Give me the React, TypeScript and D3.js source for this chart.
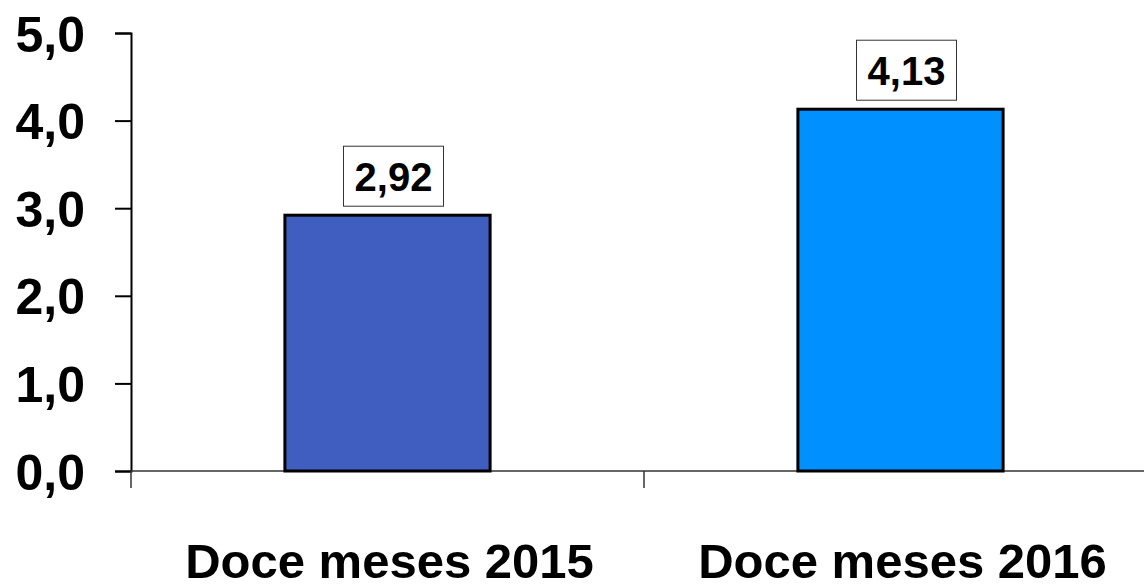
import React, { useEffect, useRef } from 'react';
import * as d3 from 'd3';

const categories = ['Doce meses 2015', 'Doce meses 2016'];
const values = [2.92, 4.13];
const valueLabels = ['2,92', '4,13'];
const barColors = ['#405DC0', '#0090FF'];
const yTicks = [0, 1, 2, 3, 4, 5];

export default function App() {
  const ref = useRef<SVGSVGElement>(null);

  useEffect(() => {
    const svg = d3.select(ref.current);
    svg.selectAll('*').remove();

    const left = 131;
    const x = d3.scaleBand().domain(categories).range([left, 1157]).paddingInner(0.6).paddingOuter(0.3);
    const y = d3.scaleLinear().domain([0, 5]).range([471, 33]);
    const step = x.step();
    const font = 'Arial, "Liberation Sans", sans-serif';

    // y axis
    const yAxis = svg.append('g').attr('transform', `translate(${left},0)`)
      .call(d3.axisLeft(y).tickValues(yTicks).tickSize(16).tickPadding(30)
        .tickFormat(d => d3.format('.1f')(d as number).replace('.', ',')));
    yAxis.select('.domain').attr('stroke', '#000').attr('stroke-width', 2);
    yAxis.selectAll('.tick line').attr('stroke', '#000').attr('stroke-width', 2);
    yAxis.selectAll('.tick text')
      .attr('font-family', font).attr('font-weight', 'bold').attr('font-size', 50)
      .attr('fill', '#000').attr('dy', '0.36em');

    // x axis line and category boundary ticks
    svg.append('line').attr('x1', left).attr('x2', 1157).attr('y1', y(0)).attr('y2', y(0))
      .attr('stroke', '#333').attr('stroke-width', 1.5);
    [0, 1, 2].forEach(i => {
      const xx = left + i * step;
      svg.append('line').attr('x1', xx).attr('x2', xx).attr('y1', y(0)).attr('y2', y(0) + 17)
        .attr('stroke', '#333').attr('stroke-width', 1.5);
    });

    // bars
    svg.selectAll('.bar').data(categories).join('rect').attr('class', 'bar')
      .attr('x', d => x(d)!)
      .attr('width', x.bandwidth())
      .attr('y', (d, i) => y(values[i]))
      .attr('height', (d, i) => y(0) - y(values[i]))
      .attr('fill', (d, i) => barColors[i])
      .attr('stroke', '#000').attr('stroke-width', 3);

    // value labels in boxes
    const lab = svg.selectAll('.vlab').data(categories).join('g').attr('class', 'vlab')
      .attr('transform', (d, i) => `translate(${x(d)! + x.bandwidth() / 2 + 6},${y(values[i]) - 9})`);
    lab.append('rect').attr('x', -50).attr('y', -60).attr('width', 100).attr('height', 60)
      .attr('fill', '#fff').attr('stroke', '#333').attr('stroke-width', 1);
    lab.append('text').attr('x', 0).attr('y', -15).attr('text-anchor', 'middle')
      .attr('font-family', font).attr('font-weight', 'bold').attr('font-size', 40)
      .text((d, i) => valueLabels[i]);

    // category labels
    svg.selectAll('.clab').data(categories).join('text').attr('class', 'clab')
      .attr('x', d => x(d)! + x.bandwidth() / 2 + 2)
      .attr('y', 578)
      .attr('text-anchor', 'middle')
      .attr('font-family', font).attr('font-weight', 'bold').attr('font-size', 49)
      .text(d => d);
  }, []);

  return (
    <svg ref={ref} width={1144} height={588}
      style={{ position: 'absolute', left: 0, top: 0, background: '#fff' }} />
  );
}
